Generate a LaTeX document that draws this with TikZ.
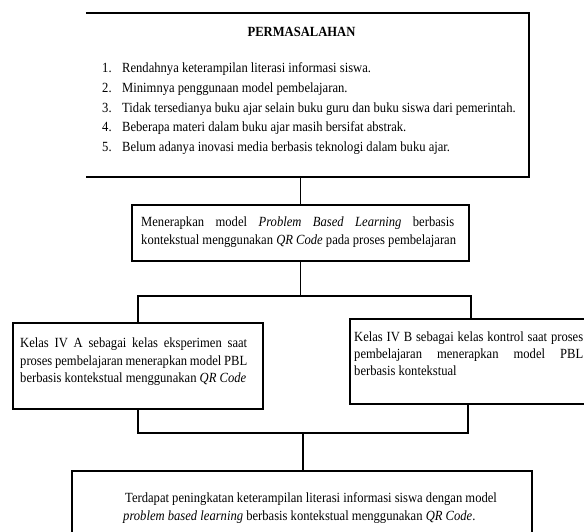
\documentclass[tikz,border=0pt]{standalone}
\usepackage{fontspec}
\setmainfont[FakeStretch=0.9]{Liberation Serif}
\newcommand{\fs}{\fontsize{14}{16}\selectfont}
\begin{document}
\begin{tikzpicture}[x=1pt,y=-1pt,
  box/.style={draw, line width=2pt, inner sep=0pt, rectangle},
  link/.style={line width=1.6pt},
  txt/.style={anchor=base west, inner sep=0pt, font=\fs},
]
\useasboundingbox (0,0) rectangle (584,532);
\fill[white] (0,0) rectangle (584,532);
\clip (0,0) rectangle (584,532);

% boxes
\node[inner sep=0pt, minimum width=443pt, minimum height=164pt] (prob) at (307.5,95) {};
\draw[line width=2.1pt] (prob.north west) -- (prob.north east) -- (prob.south east) -- (prob.south west);
\node[box, minimum width=337pt, minimum height=56pt] (apply) at (300.5,233) {};
\node[box, minimum width=250pt, minimum height=86pt] (kelasA) at (138,366) {};
\node[box, minimum width=270pt, minimum height=85pt] (kelasB) at (485,361.5) {};
\node[box, minimum width=460pt, minimum height=109pt] (result) at (302,525.5) {};

% coordinates
\coordinate (busU) at (300.5,296);
\coordinate (bIn) at (471,319);
\coordinate (bOut) at (468,404);
\coordinate (busL) at (303,433);

% connectors
\draw[link] (apply.north) -- (apply.north |- prob.south);
\draw[link] (apply.south) -- (busU);
\draw[link] (kelasA.north) -- (kelasA.north |- busU) -| (bIn);
\draw[link] (kelasA.south) -- (kelasA.south |- busL) -| (bOut);
\draw[link] (busL) -- (busL |- result.north);

% top box text
\node[anchor=base, inner sep=0pt, font=\fs\bfseries] (title) at (301.5,37) {PERMASALAHAN};
\node[txt] (n1) at (102,73) {1.};
\node[txt] (t1) at (122,73) {Rendahnya keterampilan literasi informasi siswa.};
\node[txt] (n2) at (102,93) {2.};
\node[txt] (t2) at (122,93) {Minimnya penggunaan model pembelajaran.};
\node[txt] (n3) at (102,112.5) {3.};
\node[txt] (t3) at (122,112.5) {Tidak tersedianya buku ajar selain buku guru dan buku siswa dari pemerintah.};
\node[txt] (n4) at (102,132) {4.};
\node[txt] (t4) at (122,132) {Beberapa materi dalam buku ajar masih bersifat abstrak.};
\node[txt] (n5) at (102,152) {5.};
\node[txt] (t5) at (122,152) {Belum adanya inovasi media berbasis teknologi dalam buku ajar.};

% second box text
\node[txt] (a1) at (141,226.5) {\makebox[313pt][s]{Menerapkan model \textit{Problem Based Learning} berbasis}};
\node[txt] (a2) at (141,244.5) {kontekstual menggunakan \textit{QR Code} pada proses pembelajaran};

% kelas A text
\node[txt] (ka1) at (20,347.5) {\makebox[227pt][s]{Kelas IV A sebagai kelas eksperimen saat}};
\node[txt] (ka2) at (20,365) {\makebox[227pt][s]{proses pembelajaran menerapkan model PBL}};
\node[txt] (ka3) at (20,382.5) {berbasis kontekstual menggunakan \textit{QR Code}};

% kelas B text
\node[txt] (kb1) at (354,341.5) {\makebox[229pt][s]{Kelas IV B sebagai kelas kontrol saat proses}};
\node[txt] (kb2) at (354,358.5) {\makebox[229pt][s]{pembelajaran menerapkan model PBL}};
\node[txt] (kb3) at (354,375.5) {berbasis kontekstual};

% result text
\node[txt] (r1) at (125,502.5) {Terdapat peningkatan keterampilan literasi informasi siswa dengan model};
\node[txt] (r2) at (123,520.5) {\textit{problem based learning} berbasis kontekstual menggunakan \textit{QR Code}.};
\end{tikzpicture}
\end{document}
